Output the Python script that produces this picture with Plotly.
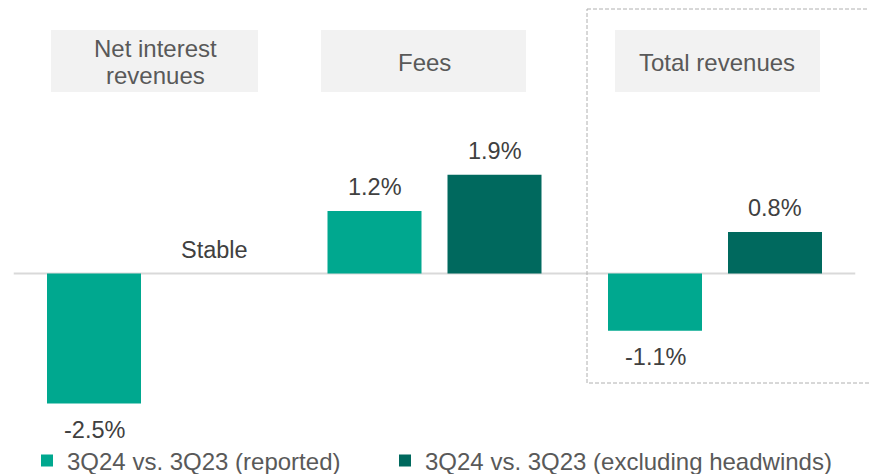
import plotly.graph_objects as go

# data
groups = ["Net interest revenues", "Fees", "Total revenues"]
reported = [-2.5, 1.2, -1.1]
excl_headwinds = [0.0, 1.9, 0.8]
reported_labels = ["-2.5%", "1.2%", "-1.1%"]
excl_labels = ["Stable", "1.9%", "0.8%"]
header_lines = [["Net interest", "revenues"], ["Fees"], ["Total revenues"]]
legend_names = ["3Q24 vs. 3Q23 (reported)", "3Q24 vs. 3Q23 (excluding headwinds)"]

W, H = 869, 474
X0_PX, X_STEP = 154.0, 280.5   # pixel of group 0, pixels per group
Y0_PX, Y_STEP = 273.5, 52.0    # pixel of zero line, pixels per 1%

C_REPORTED = "#00a88f"
C_EXCL = "#00695e"
FONT = "Liberation Sans, Arial, sans-serif"


def px_x(p):
    return (p - X0_PX) / X_STEP


def px_y(p):
    return (Y0_PX - p) / Y_STEP


x = list(range(len(groups)))
bar_w = 94 / X_STEP

fig = go.Figure()
fig.add_trace(go.Bar(
    x=x, y=reported, name=legend_names[0], legend="legend",
    marker={"color": C_REPORTED, "line": {"width": 0}},
    width=bar_w, offset=-107 / X_STEP, hoverinfo="skip",
))
fig.add_trace(go.Bar(
    x=x, y=excl_headwinds, name=legend_names[1], legend="legend2",
    marker={"color": C_EXCL, "line": {"width": 0}},
    width=bar_w, offset=13 / X_STEP, hoverinfo="skip",
))

shapes = []
annotations = []

# zero line
shapes.append(dict(type="line", x0=-0.5, x1=2.5, y0=0, y1=0, layer="below",
                   line={"color": "#d9d9d9", "width": 2}))

# dashed box around total revenues
shapes.append(dict(type="rect", x0=px_x(587), x1=px_x(880), y0=px_y(9), y1=px_y(383),
                   line={"color": "#b0b0b0", "width": 1, "dash": "4px,2px"}))

# header boxes
for left, right in [(51, 258), (321, 526), (615, 820)]:
    shapes.append(dict(type="rect", x0=px_x(left), x1=px_x(right), y0=px_y(30), y1=px_y(92),
                       fillcolor="#f2f2f2", line={"width": 0}, layer="below"))

header_centers = [155, 424, 717]
for cx, lines in zip(header_centers, header_lines):
    if len(lines) == 1:
        ys = [62]
    else:
        ys = [48, 75]
    for line, yy in zip(lines, ys):
        annotations.append(dict(x=px_x(cx), y=px_y(yy), text=line, showarrow=False,
                                xanchor="center", yanchor="middle",
                                font={"family": FONT, "size": 24, "color": "#595959"}))

# value labels
for values, labels, shift in [(reported, reported_labels, -60), (excl_headwinds, excl_labels, 60)]:
    for i, (v, lab) in enumerate(zip(values, labels)):
        annotations.append(dict(x=i + shift / X_STEP, y=v, text=lab, showarrow=False,
                                xanchor="center", yanchor="middle",
                                yshift=24 if v >= 0 else -26,
                                font={"family": FONT, "size": 23.5, "color": "#404040"}))

legend_style = {"orientation": "h", "xanchor": "left", "y": 1 - 461 / H, "yanchor": "middle",
                "font": {"family": FONT, "size": 24, "color": "#595959"},
                "bgcolor": "rgba(0,0,0,0)"}

fig.update_layout(
    width=W, height=H,
    margin={"l": 0, "r": 0, "t": 0, "b": 0, "autoexpand": False},
    paper_bgcolor="white", plot_bgcolor="white",
    barmode="group",
    showlegend=True,
    legend={**legend_style, "x": 27 / W},
    legend2={**legend_style, "x": 385 / W},
    shapes=shapes, annotations=annotations,
)
fig.update_xaxes(range=[px_x(0), px_x(W)], visible=False, fixedrange=True)
fig.update_yaxes(range=[px_y(H), px_y(0)], visible=False, fixedrange=True)

page_css = (
    "document.documentElement.style.overflow='hidden';"
    "document.body.style.margin='0px';"
    "document.body.style.overflow='hidden';"
)
fig.write_html("out.html", config={"displayModeBar": False}, post_script=page_css)
